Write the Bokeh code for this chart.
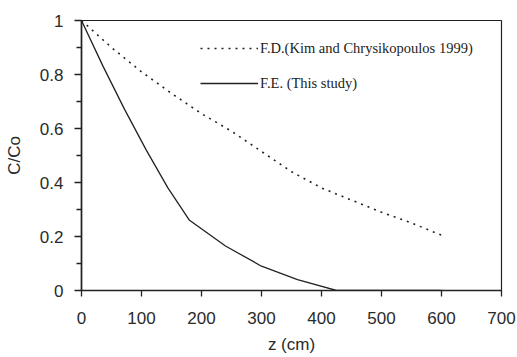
from bokeh.plotting import figure
from bokeh.models import FixedTicker, Legend, LegendItem
from bokeh.embed import file_html
from bokeh.resources import INLINE

# Data
fd_z = [0, 50, 100, 150, 200, 250, 300, 350, 400, 450, 500, 550, 600]
fd_c = [1.0, 0.90, 0.81, 0.73, 0.655, 0.59, 0.515, 0.44, 0.38, 0.335, 0.29, 0.25, 0.205]
fe_z = [0, 36, 72, 108, 144, 180, 240, 300, 360, 425, 480, 600]
fe_c = [1.0, 0.83, 0.67, 0.52, 0.38, 0.26, 0.165, 0.09, 0.04, 0.0, 0.0, 0.0]
x_ticks = [0, 100, 200, 300, 400, 500, 600, 700]
y_ticks = [0, 0.2, 0.4, 0.6, 0.8, 1]
y_minor = [0.1, 0.3, 0.5, 0.7, 0.9]
fd_label = "F.D.(Kim and Chrysikopoulos 1999)"
fe_label = "F.E. (This study)"

p = figure(width=517, height=357, output_backend="svg", toolbar_location=None,
           x_range=(0, 700), y_range=(0, 1),
           min_border_left=81, min_border_right=16, min_border_top=20, min_border_bottom=67)
p.grid.visible = False
p.outline_line_color = "#222222"
p.outline_line_width = 1.2
p.background_fill_color = "white"
p.border_fill_color = "white"

fd = p.line(fd_z, fd_c, line_color="#222222", line_width=1.6, line_dash="2 5")
fe = p.line(fe_z, fe_c, line_color="#222222", line_width=1.3)

for ax in (p.xaxis[0], p.yaxis[0]):
    ax.axis_line_color = "#222222"
    ax.axis_line_width = 1.6
    ax.major_tick_line_color = "#222222"
    ax.minor_tick_line_color = "#222222"
    ax.major_tick_line_width = 1.3
    ax.minor_tick_line_width = 1.3
    ax.major_tick_in = 0
    ax.minor_tick_in = 0
    ax.major_label_text_font = "Liberation Sans"
    ax.major_label_text_font_size = "17px"
    ax.major_label_text_color = "#2a2a2a"
    ax.axis_label_text_font = "Liberation Sans"
    ax.axis_label_text_font_size = "17px"
    ax.axis_label_text_font_style = "normal"
    ax.axis_label_text_color = "#2a2a2a"

p.xaxis.ticker = FixedTicker(ticks=x_ticks)
p.yaxis.ticker = FixedTicker(ticks=y_ticks, minor_ticks=y_minor)
p.xaxis.major_tick_out = 6
p.xaxis.minor_tick_out = 0
p.yaxis.major_tick_out = 7
p.yaxis.minor_tick_out = 5
p.xaxis.major_label_standoff = 15
p.yaxis.major_label_standoff = 11
p.xaxis.axis_label = "z (cm)"
p.yaxis.axis_label = "C/Co"
p.xaxis.axis_label_standoff = 8
p.yaxis.axis_label_standoff = 13
p.yaxis.major_label_overrides = {0: "0", 1: "1"}

legend = Legend(items=[LegendItem(label=fd_label, renderers=[fd]),
                       LegendItem(label=fe_label, renderers=[fe])],
                location=(119, 197), border_line_color=None, background_fill_alpha=0,
                padding=0, margin=0, spacing=15, glyph_width=58, glyph_height=20,
                label_height=20, label_standoff=2,
                label_text_font="Liberation Serif", label_text_font_size="14.5px",
                label_text_color="#222222")
p.add_layout(legend, "center")

open("out.html", "w").write(file_html(p, INLINE))
